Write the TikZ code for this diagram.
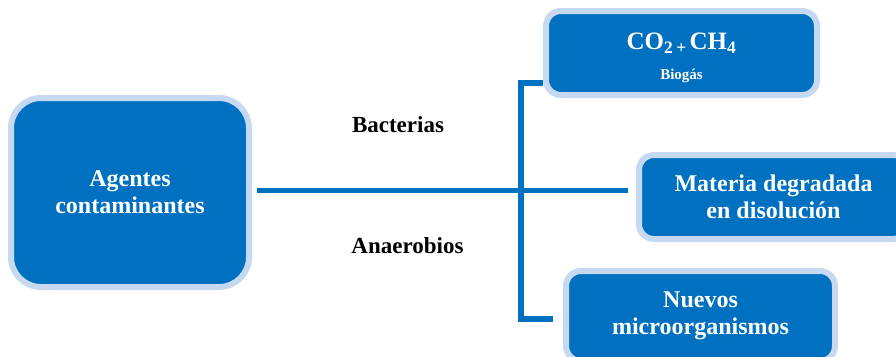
\documentclass[tikz,border=0pt]{standalone}
\usepackage{fontspec}
\setmainfont{Liberation Serif}
\usepackage{xcolor}
\definecolor{boxblue}{RGB}{0,112,192}
\definecolor{rimblue}{RGB}{198,217,241}

\begin{document}
\begin{tikzpicture}[x=1pt,y=-1pt,
  box/.style={draw=rimblue,fill=boxblue,line width=6pt,rounded corners=15pt,
    text=white,align=center,inner sep=0pt,minimum width=269pt,minimum height=84pt,
    font=\fontsize{24}{27}\selectfont\bfseries},
  link/.style={draw=boxblue,line width=5.5pt},
  tag/.style={anchor=base,font=\fontsize{23}{27}\selectfont\bfseries}]
  \useasboundingbox (0,0) rectangle (896,356);
  % left box and the three products
  \node[box,rounded corners=30pt,minimum width=238pt,minimum height=189pt]
    (agentes) at (130,192.5) {Agentes\\contaminantes};
  \node[box,minimum width=271pt] (co2) at (681.5,53)
    {\rule{0pt}{26pt}\fontsize{25}{27}\selectfont CO\textsubscript{2}\textsubscript{\,+\,}CH\textsubscript{4}\\[3pt]
     {\fontsize{15}{18}\selectfont Biogás}};
  \node[box] (materia) at (773.5,197) {Materia degradada\\en disolución};
  \node[box,minimum height=90pt] (nuevos) at (700.5,316) {Nuevos\\microorganismos};
  % connectors
  \draw[link] ([xshift=5pt]agentes.east |- 0,190.5) -- ([xshift=-8pt]materia.west |- 0,190.5);
  \draw[link] (co2.west |- 0,83) -- ++(-22,0) |- ([xshift=-10pt]nuevos.west |- 0,319);
  \node[tag] (bact) at (398,132) {Bacterias};
  \node[tag] (anae) at (407.5,253) {Anaerobios};
\end{tikzpicture}
\end{document}
